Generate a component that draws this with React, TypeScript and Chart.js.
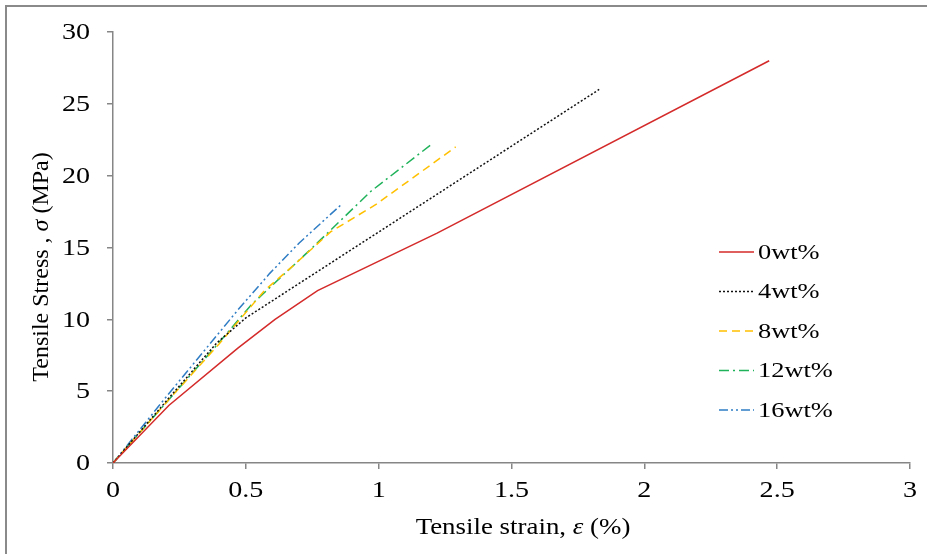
import React, { useEffect, useRef } from "react";
import { Chart, registerables } from "chart.js";

Chart.register(...registerables);

const seriesNames = ["0wt%", "4wt%", "8wt%", "12wt%", "16wt%"];

const strain0 = [0, 0.21, 0.47, 0.61, 0.77, 1.22, 2.47];
const stress0 = [0, 4.0, 8.0, 10.0, 12.0, 16.0, 28.0];

const strain4 = [0, 0.2, 0.39, 0.5, 1.83];
const stress4 = [0, 4.3, 8.35, 10.1, 26.0];

const strain8 = [0, 0.2, 0.4, 0.57, 0.67, 0.82, 0.99, 1.29];
const stress8 = [0, 4.2, 8.3, 12.0, 13.6, 16.1, 18.0, 22.0];

const strain12 = [0, 0.2, 0.4, 0.52, 0.63, 0.74, 0.97, 1.2];
const stress12 = [0, 4.2, 8.4, 11.0, 12.9, 14.8, 18.9, 22.2];

const strain16 = [0, 0.2, 0.47, 0.59, 0.7, 0.86];
const stress16 = [0, 4.6, 10.65, 13.2, 15.3, 18.0];

const xTicks = [0, 0.5, 1, 1.5, 2, 2.5, 3];
const yTicks = [0, 5, 10, 15, 20, 25, 30];

const xTitleParts = ["Tensile strain, ", "\u03b5", " (%)"];
const yTitleParts = ["Tensile Stress , ", "\u03c3", " (MPa)"];

const FONT = "'Liberation Serif', 'Times New Roman', serif";
const STRETCH = 1.17;

const toPoints = (xs: number[], ys: number[]) => xs.map((x, i) => ({ x, y: ys[i] }));

const styles = [
  { color: "#d42a2a", dash: [] as number[] },
  { color: "#111111", dash: [2, 2] },
  { color: "#ffc000", dash: [8, 5] },
  { color: "#1fb25a", dash: [10, 4, 2, 4] },
  { color: "#2e7cc4", dash: [9, 3, 2, 3, 2, 3] },
];

const drawParts = (
  ctx: CanvasRenderingContext2D,
  parts: string[],
  cx: number,
  cy: number,
  rotate: boolean,
  size: number,
  sx: number
) => {
  ctx.save();
  ctx.translate(cx, cy);
  if (rotate) ctx.rotate(-Math.PI / 2);
  ctx.scale(sx, 1);
  const fonts = parts.map((_, i) => (i === 1 ? `italic ${size}px ${FONT}` : `${size}px ${FONT}`));
  let total = 0;
  const widths = parts.map((p, i) => {
    ctx.font = fonts[i];
    const w = ctx.measureText(p).width;
    total += w;
    return w;
  });
  let x = -total / 2;
  ctx.fillStyle = "#000";
  ctx.textBaseline = "alphabetic";
  ctx.textAlign = "left";
  parts.forEach((p, i) => {
    ctx.font = fonts[i];
    ctx.fillText(p, x, 0);
    x += widths[i];
  });
  ctx.restore();
};

const drawText = (
  ctx: CanvasRenderingContext2D,
  text: string,
  x: number,
  y: number,
  align: CanvasTextAlign,
  size: number,
  sx: number
) => {
  ctx.save();
  ctx.translate(x, y);
  ctx.scale(sx, 1);
  ctx.font = `${size}px ${FONT}`;
  ctx.fillStyle = "#000";
  ctx.textAlign = align;
  ctx.textBaseline = "middle";
  ctx.fillText(text, 0, 0);
  ctx.restore();
};

const extrasPlugin = {
  id: "extras",
  afterDraw(chart: any) {
    const ctx = chart.ctx as CanvasRenderingContext2D;
    const xs = chart.scales.x;
    const ys = chart.scales.y;
    // tick labels
    xTicks.forEach((v) => {
      drawText(ctx, String(v), xs.getPixelForValue(v), 491, "center", 24, STRETCH);
    });
    yTicks.forEach((v) => {
      drawText(ctx, String(v), 90, ys.getPixelForValue(v) + 1, "right", 24, STRETCH);
    });
    // axis titles
    drawParts(ctx, xTitleParts, 523, 534, false, 24, 1.12);
    drawParts(ctx, yTitleParts, 48, 267, true, 24, 1);
    // legend
    chart.data.datasets.forEach((ds: any, i: number) => {
      const y = 252 + i * 39.5;
      ctx.save();
      ctx.strokeStyle = ds.borderColor;
      ctx.lineWidth = 1.5;
      ctx.setLineDash(ds.borderDash || []);
      ctx.beginPath();
      ctx.moveTo(719, y);
      ctx.lineTo(754, y);
      ctx.stroke();
      ctx.restore();
      drawText(ctx, ds.label, 758, y + 1, "left", 22, 1.2);
    });
  },
};

export default function App() {
  const ref = useRef<HTMLCanvasElement>(null);

  useEffect(() => {
    if (!ref.current) return;
    const series = [
      toPoints(strain0, stress0),
      toPoints(strain4, stress4),
      toPoints(strain8, stress8),
      toPoints(strain12, stress12),
      toPoints(strain16, stress16),
    ];
    const chart = new Chart(ref.current, {
      type: "line",
      data: {
        datasets: series.map((data, i) => ({
          label: seriesNames[i],
          data,
          borderColor: styles[i].color,
          backgroundColor: styles[i].color,
          borderDash: styles[i].dash,
          borderWidth: 1.5,
          pointRadius: 0,
          fill: false,
          tension: 0,
        })),
      },
      options: {
        animation: false,
        responsive: false,
        events: [],
        layout: { padding: { top: 32, right: 17, left: 0, bottom: 0 } },
        plugins: {
          legend: { display: false },
          tooltip: { enabled: false },
          title: { display: false },
        },
        scales: {
          x: {
            type: "linear",
            min: 0,
            max: 3,
            afterBuildTicks: (scale: any) => {
              scale.ticks = xTicks.map((v) => ({ value: v }));
            },
            afterFit: (scale: any) => {
              scale.height = 91;
            },
            ticks: {
              color: "rgba(0,0,0,0)",
              font: { family: FONT, size: 22 },
              padding: 4,
              maxRotation: 0,
              callback: (v: any) => String(v),
            },
            grid: {
              drawOnChartArea: false,
              drawTicks: true,
              tickLength: 6,
              color: "#868686",
              lineWidth: 1.5,
            },
            border: { color: "#868686", width: 1.5 },
          },
          y: {
            type: "linear",
            min: 0,
            max: 30,
            afterBuildTicks: (scale: any) => {
              scale.ticks = yTicks.map((v) => ({ value: v }));
            },
            afterFit: (scale: any) => {
              scale.width = 113;
            },
            ticks: {
              color: "rgba(0,0,0,0)",
              font: { family: FONT, size: 22 },
              padding: 6,
              callback: (v: any) => String(v),
            },
            grid: {
              drawOnChartArea: false,
              drawTicks: true,
              tickLength: 6,
              color: "#868686",
              lineWidth: 1.5,
            },
            border: { color: "#868686", width: 1.5 },
          },
        },
      },
      plugins: [extrasPlugin],
    } as any);
    return () => chart.destroy();
  }, []);

  return (
    <div style={{ position: "absolute", left: 0, top: 0, width: 927, height: 554, overflow: "hidden", background: "#fff" }}>
      <div
        style={{
          position: "absolute",
          left: 5,
          top: 5,
          width: 2000,
          height: 2000,
          borderTop: "2px solid #8a8a8a",
          borderLeft: "2px solid #8a8a8a",
        }}
      />
      <canvas ref={ref} width={927} height={554} style={{ position: "absolute", left: 0, top: 0 }} />
    </div>
  );
}
